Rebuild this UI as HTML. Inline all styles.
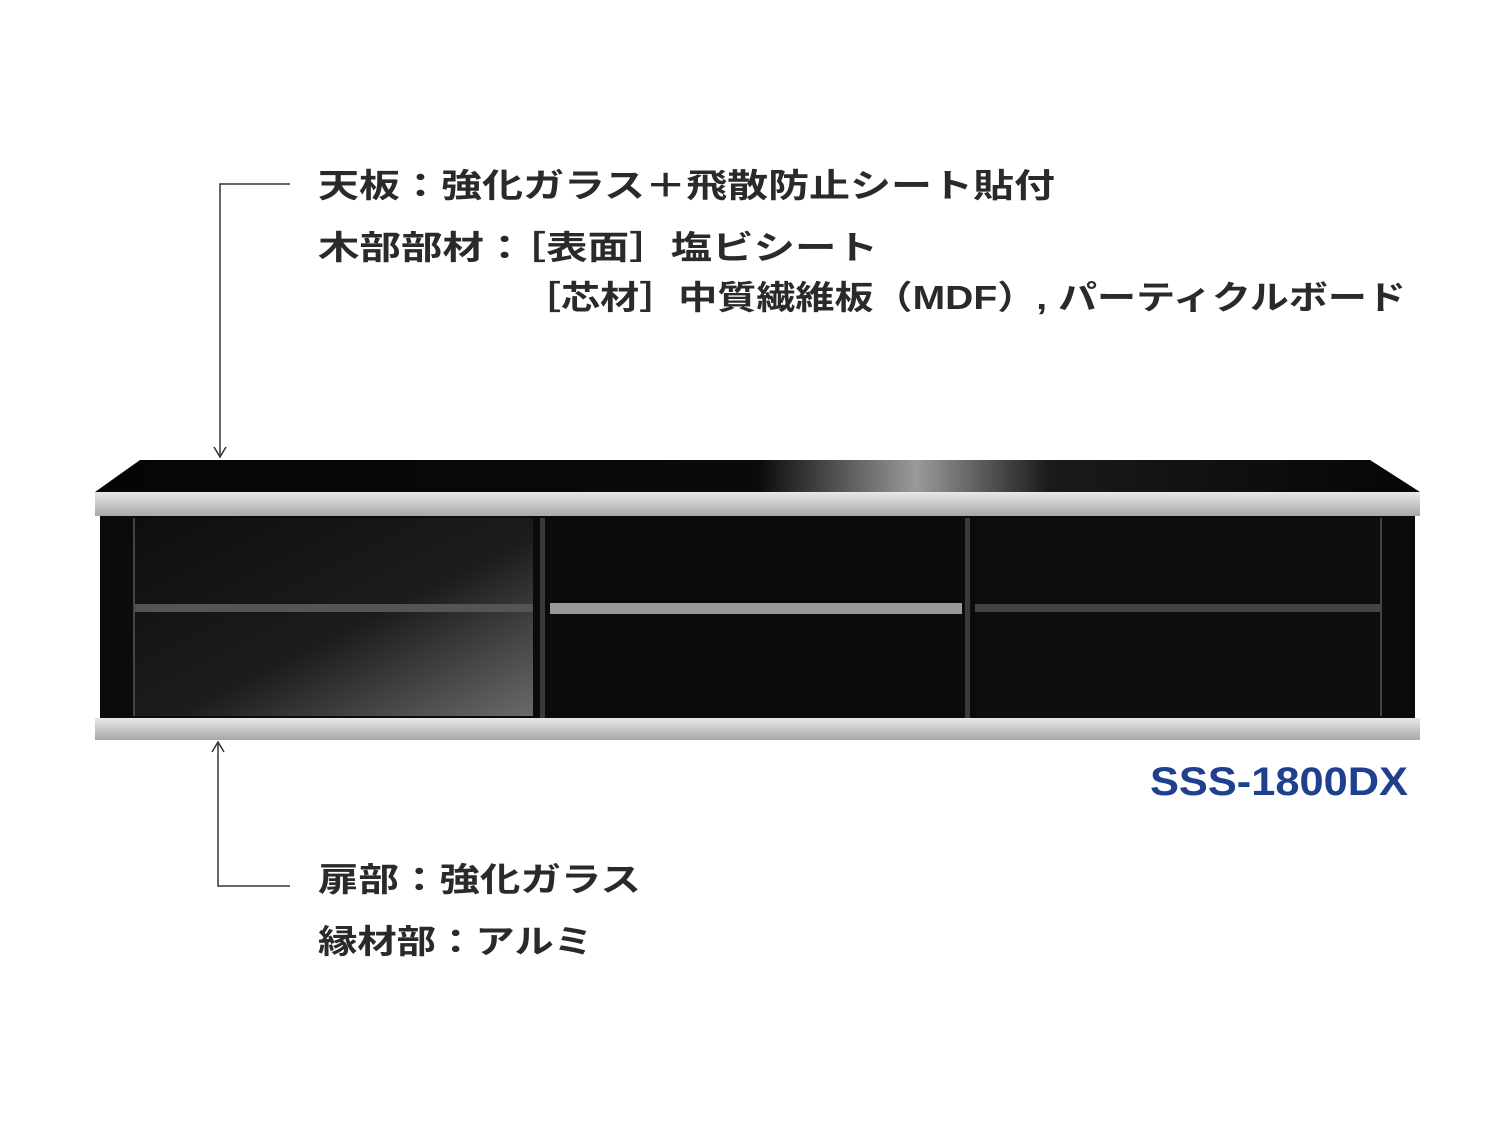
<!DOCTYPE html>
<html><head><meta charset="utf-8"><style>
body{margin:0;background:#fff;width:1508px;height:1129px;overflow:hidden}
svg{display:block}
text{font-family:"Liberation Sans","Noto Sans CJK JP",sans-serif;font-weight:bold;fill:#2a2a2a}
</style></head><body>
<svg width="1508" height="1129" viewBox="0 0 1508 1129">
<defs>
<linearGradient id="top" x1="0" x2="1" y1="0" y2="0">
<stop offset="0" stop-color="#050505"/><stop offset="0.5" stop-color="#0a0a0a"/>
<stop offset="0.62" stop-color="#9a9a9a"/><stop offset="0.72" stop-color="#1a1a1a"/><stop offset="1" stop-color="#050505"/>
</linearGradient>
<linearGradient id="al" x1="0" x2="0" y1="0" y2="1">
<stop offset="0" stop-color="#e8e8e8"/><stop offset="1" stop-color="#a8a8a8"/>
</linearGradient>
<linearGradient id="glass" x1="0" x2="1" y1="0" y2="1">
<stop offset="0" stop-color="#0e0e0e"/><stop offset="0.55" stop-color="#1c1c1c"/><stop offset="1" stop-color="#6a6a6a"/>
</linearGradient>
</defs>
<g stroke="#333" stroke-width="1.5" fill="none">
<path d="M290 184 H220 V455"/>
<path d="M290 886 H218 V744"/>
</g>
<path d="M214 447 L220 457 L226 447" stroke="#333" stroke-width="1.5" fill="none"/>
<path d="M212 752 L218 742 L224 752" stroke="#333" stroke-width="1.5" fill="none"/>
<polygon points="140,460 1370,460 1420,492 95,492" fill="url(#top)"/>
<rect x="95" y="492" width="1325" height="24" fill="url(#al)"/>
<rect x="100" y="516" width="1315" height="203" fill="#0b0b0b"/>
<rect x="135" y="518" width="398" height="198" fill="url(#glass)"/>
<rect x="133" y="518" width="2" height="198" fill="#444"/>
<rect x="540" y="518" width="5" height="200" fill="#3a3a3a"/>
<rect x="965" y="518" width="5" height="200" fill="#3a3a3a"/>
<rect x="1380" y="518" width="2" height="198" fill="#444"/>
<rect x="135" y="604" width="398" height="8" fill="#555"/>
<rect x="550" y="603" width="412" height="11" fill="#999"/>
<rect x="976" y="518" width="402" height="198" fill="#111" opacity="0.6"/>
<rect x="975" y="604" width="405" height="8" fill="#444"/>
<rect x="95" y="718" width="1325" height="22" fill="url(#al)"/>
<text x="318" y="197" font-size="33" textLength="737" lengthAdjust="spacingAndGlyphs">天板：強化ガラス＋飛散防止シート貼付</text>
<text x="318" y="259" font-size="33" textLength="560" lengthAdjust="spacingAndGlyphs">木部部材：［表面］塩ビシート</text>
<text x="522" y="309" font-size="33" textLength="884" lengthAdjust="spacingAndGlyphs">［芯材］中質繊維板（MDF）, パーティクルボード</text>
<text x="318" y="891" font-size="33" textLength="323" lengthAdjust="spacingAndGlyphs">扉部：強化ガラス</text>
<text x="318" y="953" font-size="33" textLength="275" lengthAdjust="spacingAndGlyphs">縁材部：アルミ</text>
<text x="1150" y="795" font-size="40" style="fill:#1f3f8f" textLength="258" lengthAdjust="spacingAndGlyphs">SSS-1800DX</text>
</svg>
</body></html>
